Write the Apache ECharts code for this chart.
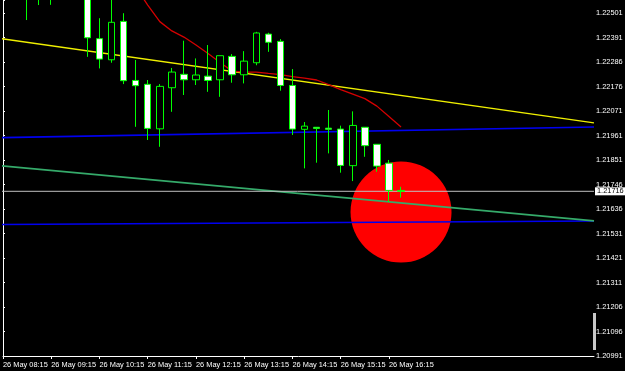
<!DOCTYPE html>
<html>
<head>
<meta charset="utf-8">
<script src="https://cdn.jsdelivr.net/npm/echarts@6/dist/echarts.min.js"></script>
<style>
html,body{margin:0;padding:0;background:#000;}
#chart{width:625px;height:371px;}
</style>
</head>
<body>
<div id="chart"></div>
<script>
// ---- Data ----
const times = [
  '26 May 08:15','26 May 08:30','26 May 08:45','26 May 09:00','26 May 09:15','26 May 09:30','26 May 09:45','26 May 10:00',
  '26 May 10:15','26 May 10:30','26 May 10:45','26 May 11:00','26 May 11:15','26 May 11:30','26 May 11:45','26 May 12:00',
  '26 May 12:15','26 May 12:30','26 May 12:45','26 May 13:00','26 May 13:15','26 May 13:30','26 May 13:45','26 May 14:00',
  '26 May 14:15','26 May 14:30','26 May 14:45','26 May 15:00','26 May 15:15','26 May 15:30','26 May 15:45','26 May 16:00',
  '26 May 16:15','26 May 16:30','26 May 16:45','26 May 17:00','26 May 17:15','26 May 17:30','26 May 17:45','26 May 18:00',
  '26 May 18:15','26 May 18:30','26 May 18:45','26 May 19:00','26 May 19:15','26 May 19:30','26 May 19:45','26 May 20:00',
  '26 May 20:15','26 May 20:30'
];

// [open, close, low, high]
const candles = [
  '-', '-',
  [1.22620, 1.22600, 1.22470, 1.22650],
  [1.22630, 1.22600, 1.22536, 1.22660],
  [1.22620, 1.22640, 1.22537, 1.22670],
  '-', '-',
  [1.22585, 1.22392, 1.22308, 1.22600],
  [1.22388, 1.22298, 1.22257, 1.22478],
  [1.22295, 1.22460, 1.22282, 1.22590],
  [1.22464, 1.22203, 1.22188, 1.22500],
  [1.22204, 1.22181, 1.22000, 1.22294],
  [1.22187, 1.21993, 1.21942, 1.22206],
  [1.21991, 1.22178, 1.21912, 1.22188],
  [1.22172, 1.22241, 1.22066, 1.22259],
  [1.22231, 1.22207, 1.22140, 1.22379],
  [1.22207, 1.22228, 1.22184, 1.22301],
  [1.22223, 1.22204, 1.22154, 1.22360],
  [1.22207, 1.22313, 1.22132, 1.22313],
  [1.22310, 1.22229, 1.22194, 1.22320],
  [1.22229, 1.22289, 1.22191, 1.22333],
  [1.22282, 1.22413, 1.22271, 1.22418],
  [1.22408, 1.22372, 1.22330, 1.22414],
  [1.22376, 1.22182, 1.22159, 1.22386],
  [1.22182, 1.21990, 1.21964, 1.22254],
  [1.21989, 1.22003, 1.21817, 1.22021],
  [1.21998, 1.21993, 1.21842, 1.21998],
  [1.21994, 1.21989, 1.21883, 1.22074],
  [1.21990, 1.21830, 1.21798, 1.22005],
  [1.21829, 1.22006, 1.21761, 1.22068],
  [1.21998, 1.21917, 1.21868, 1.21999],
  [1.21923, 1.21827, 1.21802, 1.21923],
  [1.21840, 1.21720, 1.21669, 1.21854],
  [1.21720, 1.21716, 1.21688, 1.21736]
];

// moving average (red), one value per bar
const maValues = [
  '-','-','-','-','-','-','-','-','-','-','-',
  1.22615, 1.22536, 1.22463, 1.22422, 1.22395, 1.22360, 1.22323, 1.22283,
  1.22245, 1.22241, 1.22241, 1.22235, 1.22230, 1.22221, 1.22214, 1.22206,
  1.22186, 1.22164, 1.22144, 1.22124, 1.22091, 1.22045, 1.21999
];

// trend lines: [bar position, price] at left and right edges
const yellowLine = [[-0.249, 1.22389], [49, 1.22017]];
const blueUpper  = [[-0.249, 1.21952], [49, 1.21999]];
const blueLower  = [[-0.249, 1.21570], [49, 1.21585]];
const greenLine  = [[-0.249, 1.21829], [49, 1.21586]];

const bidPrice = 1.21716;
const bidLabel = '1.21716';
const circleCenter = ['26 May 16:30', 1.21625];

const yTicks = ['1.20991','1.21096','1.21206','1.21311','1.21421','1.21531','1.21636','1.21746',
                '1.21851','1.21961','1.22071','1.22176','1.22286','1.22391','1.22501'];
const yMin = 1.20991;
const yStep = (1.22501 - 1.20991) / 14;
const yMax = 1.225582;

// ---- Chart ----
const FONT = '"Liberation Sans", Arial, sans-serif';
const FS = 7.4;
const showIdx = (idx) => idx % 4 === 0 && idx <= 33;

const chart = echarts.init(document.getElementById('chart'), null, {renderer: 'canvas'});
chart.setOption({
  backgroundColor: '#000000',
  animation: false,
  grid: {left: 3, right: 31, top: 0, bottom: 15, containLabel: false, outerBoundsMode: 'none'},
  xAxis: [
    {
      type: 'category',
      data: times,
      boundaryGap: false,
      axisLine: {show: true, lineStyle: {color: '#ffffff', width: 1}},
      axisTick: {show: true, interval: (i) => showIdx(i), length: 3, lineStyle: {color: '#ffffff'}},
      axisLabel: {
        show: true, interval: (i) => showIdx(i), align: 'left', margin: 5,
        showMinLabel: true, hideOverlap: false,
        color: '#ffffff', fontSize: FS, fontFamily: FONT
      },
      splitLine: {show: false}
    },
    {type: 'value', min: 0, max: 49, show: false, gridIndex: 0}
  ],
  yAxis: {
    type: 'value',
    position: 'right',
    min: yMin,
    max: yMax,
    interval: yStep,
    scale: true,
    axisLine: {show: true, lineStyle: {color: '#ffffff', width: 1}},
    axisTick: {show: true, length: 2, lineStyle: {color: '#ffffff'}},
    axisLabel: {
      color: '#ffffff', fontSize: FS, fontFamily: FONT, margin: 2, showMinLabel: true,
      formatter: (v) => {
        const k = Math.round((v - yMin) / yStep);
        if (Math.abs(v - (yMin + k * yStep)) > yStep * 0.1) return '';
        return yTicks[k] || '';
      }
    },
    splitLine: {show: false}
  },
  graphic: [
    {type: 'rect', shape: {x: 593, y: 313, width: 3, height: 37}, style: {fill: '#c8c8c8'}, z: 100}
  ],
  series: [
    {
      type: 'scatter',
      data: [circleCenter],
      symbol: 'circle',
      symbolSize: 101,
      itemStyle: {color: '#ff0000', opacity: 1},
      silent: true,
      z: 1
    },
    {
      type: 'line', xAxisIndex: 1, data: yellowLine, symbol: 'none', clip: false, silent: true,
      lineStyle: {color: '#f0f000', width: 1.3}, z: 2
    },
    {
      type: 'line', xAxisIndex: 1, data: blueUpper, symbol: 'none', clip: false, silent: true,
      lineStyle: {color: '#0000f0', width: 1.6}, z: 2
    },
    {
      type: 'line', xAxisIndex: 1, data: blueLower, symbol: 'none', clip: false, silent: true,
      lineStyle: {color: '#0000f0', width: 1.6}, z: 2
    },
    {
      type: 'line', xAxisIndex: 1, data: greenLine, symbol: 'none', clip: false, silent: true,
      lineStyle: {color: '#35aa6a', width: 1.6}, z: 2
    },
    {
      type: 'line', data: maValues, symbol: 'none', silent: true, connectNulls: false,
      lineStyle: {color: '#d40000', width: 1.3}, z: 3
    },
    {
      type: 'line', xAxisIndex: 1, data: [[-0.249, bidPrice], [49, bidPrice]], symbol: 'none', clip: false, silent: true,
      lineStyle: {color: '#c0c0c0', width: 1}, z: 4,
      endLabel: {
        show: true, formatter: bidLabel, backgroundColor: '#ffffff', color: '#000000',
        fontSize: FS, fontFamily: FONT, padding: [1, 2, 0, 2], distance: 1
      }
    },
    {
      type: 'candlestick',
      data: candles,
      barWidth: 7,
      silent: true,
      itemStyle: {
        color: '#000000', color0: '#ffffff',
        borderColor: '#00ff00', borderColor0: '#00ff00', borderWidth: 1
      },
      z: 5
    }
  ]
});
</script>
</body>
</html>
